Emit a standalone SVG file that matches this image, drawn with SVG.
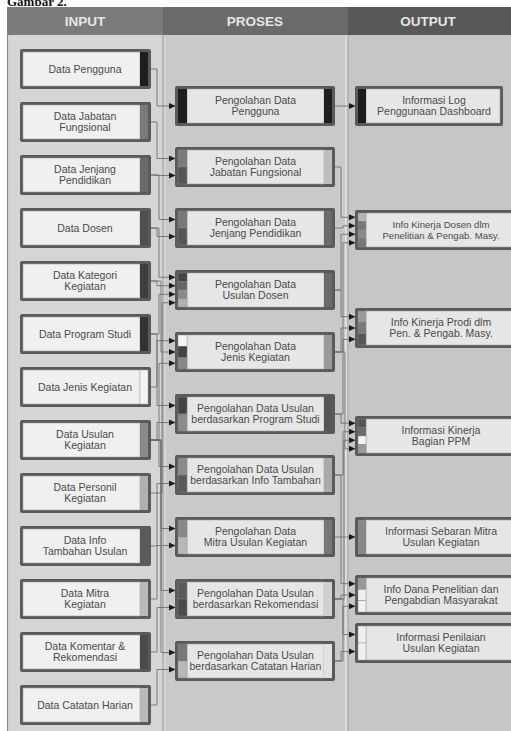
<svg xmlns="http://www.w3.org/2000/svg" width="511" height="731" viewBox="0 0 511 731">
<style>
.ob{fill:#5a5a5a}
.ib{fill:#f0f0f0;stroke:#a0a0a0;stroke-width:0.6}
.pb{fill:#e6e6e6;stroke:#a0a0a0;stroke-width:0.6}
.sg{stroke:#8a8a8a;stroke-width:0.4}
.t{font-family:"Liberation Sans",Arial,sans-serif;font-size:10.5px;fill:#4a4a4a;text-anchor:middle}
.t2{font-family:"Liberation Sans",Arial,sans-serif;font-size:9.6px;fill:#4a4a4a;text-anchor:middle}
.h{font-family:"Liberation Sans",Arial,sans-serif;font-weight:bold;font-size:13.5px;fill:#e6e6e6;text-anchor:middle}
.c{fill:none;stroke:#6a6a6a;stroke-width:0.85;marker-end:url(#ah)}
</style>
<defs>
<marker id="ah" markerWidth="7" markerHeight="7" refX="6.5" refY="3.5" orient="auto" markerUnits="userSpaceOnUse"><path d="M0,0.5 L6.5,3.5 L0,6.5 z" fill="#1a1a1a"/></marker>
</defs>
<rect x="0" y="0" width="511" height="731" fill="#ffffff"/>
<text x="7" y="6" font-family="'Liberation Serif',serif" font-weight="bold" font-size="13" fill="#111">Gambar 2.</text>
<g id="lanes">
<rect x="8" y="35" width="155" height="696" fill="#d5d5d5"/>
<rect x="163" y="35" width="184" height="696" fill="#c9c9c9"/>
<rect x="347" y="35" width="164" height="696" fill="#c6c6c6"/>
<line x1="7.5" y1="35" x2="7.5" y2="731" stroke="#8c8c8c" stroke-width="1.2"/>
<line x1="163" y1="35" x2="163" y2="731" stroke="#9c9c9c" stroke-width="1"/>
<line x1="165" y1="35" x2="165" y2="731" stroke="#dedede" stroke-width="1"/>
<line x1="346" y1="35" x2="346" y2="731" stroke="#dcdcdc" stroke-width="2"/>
<line x1="348" y1="35" x2="348" y2="731" stroke="#a8a8a8" stroke-width="1"/>
<rect x="7" y="7" width="156" height="28" fill="#7b7b7b"/>
<rect x="163" y="7" width="185" height="28" fill="#6a6a6a"/>
<rect x="348" y="7" width="163" height="28" fill="#585858"/>
<text class="h" x="85" y="26">INPUT</text>
<text class="h" x="255" y="26">PROSES</text>
<text class="h" x="428" y="26">OUTPUT</text>
</g>
<g id="connectors">
<polyline class="c" points="151,69 157,69 157,106 175.5,106"/>
<polyline class="c" points="151,122 157,122 157,158.5 175.5,158.5"/>
<polyline class="c" points="151,175 157,175 157,175.5 175.5,175.5"/>
<polyline class="c" points="151,175 159,175 159,219.5 175.5,219.5"/>
<polyline class="c" points="151,228 157,228 157,236.5 175.5,236.5"/>
<polyline class="c" points="151,228 159,228 159,277.25 175.5,277.25"/>
<polyline class="c" points="151,281 157,281 157,285.75 175.5,285.75"/>
<polyline class="c" points="151,334 159,334 159,294.25 175.5,294.25"/>
<polyline class="c" points="151,493 162,493 162,302.75 175.5,302.75"/>
<polyline class="c" points="151,387 157,387 157,340.67 175.5,340.67"/>
<polyline class="c" points="151,281 161,281 161,352 175.5,352"/>
<polyline class="c" points="151,440 159,440 159,363.33 175.5,363.33"/>
<polyline class="c" points="151,334 157,334 157,405.5 175.5,405.5"/>
<polyline class="c" points="151,440 157,440 157,422.5 175.5,422.5"/>
<polyline class="c" points="151,440 159,440 159,466.5 175.5,466.5"/>
<polyline class="c" points="151,546 157,546 157,483.5 175.5,483.5"/>
<polyline class="c" points="151,440 161,440 161,528.5 175.5,528.5"/>
<polyline class="c" points="151,599 157,599 157,545.5 175.5,545.5"/>
<polyline class="c" points="151,440 161,440 161,590.5 175.5,590.5"/>
<polyline class="c" points="151,652 157,652 157,607.5 175.5,607.5"/>
<polyline class="c" points="151,440 161,440 161,652.5 175.5,652.5"/>
<polyline class="c" points="151,705 157,705 157,669.5 175.5,669.5"/>
<polyline class="c" points="335,106 355.5,106"/>
<polyline class="c" points="335,167 341,167 341,217.25 355.5,217.25"/>
<polyline class="c" points="335,228 343,228 343,225.75 355.5,225.75"/>
<polyline class="c" points="335,290 341,290 341,234.25 355.5,234.25"/>
<polyline class="c" points="335,352 343,352 343,242.75 355.5,242.75"/>
<polyline class="c" points="335,290 341,290 341,316.67 355.5,316.67"/>
<polyline class="c" points="335,352 341,352 341,328 355.5,328"/>
<polyline class="c" points="335,414 343,414 343,339.33 355.5,339.33"/>
<polyline class="c" points="335,414 341,414 341,423.25 355.5,423.25"/>
<polyline class="c" points="335,475 343,475 343,431.75 355.5,431.75"/>
<polyline class="c" points="335,599 344,599 344,440.25 355.5,440.25"/>
<polyline class="c" points="335,352 345,352 345,448.75 355.5,448.75"/>
<polyline class="c" points="335,537 355.5,537"/>
<polyline class="c" points="335,475 341,475 341,583.67 355.5,583.67"/>
<polyline class="c" points="335,599 341,599 341,595 355.5,595"/>
<polyline class="c" points="335,661 343,661 343,606.33 355.5,606.33"/>
<polyline class="c" points="335,599 343,599 343,634.5 355.5,634.5"/>
<polyline class="c" points="335,661 341,661 341,651.5 355.5,651.5"/>
</g>
<g id="in-pengguna"><rect class="ob" x="20" y="49" width="131" height="40" rx="2"/><rect class="ib" x="23" y="52" width="117" height="34"/><rect x="140" y="52" width="8" height="34" fill="#1e1e1e"/><text class="t" x="85" y="72.5">Data Pengguna</text></g>
<g id="in-jabatan"><rect class="ob" x="20" y="102" width="131" height="40" rx="2"/><rect class="ib" x="23" y="105" width="117" height="34"/><rect x="140" y="105" width="8" height="34" fill="#7a7a7a"/><text class="t" x="85" y="119.8">Data Jabatan<tspan x="85" dy="11.5">Fungsional</tspan></text></g>
<g id="in-jenjang"><rect class="ob" x="20" y="155" width="131" height="40" rx="2"/><rect class="ib" x="23" y="158" width="117" height="34"/><rect x="140" y="158" width="8" height="34" fill="#6a6a6a"/><text class="t" x="85" y="172.8">Data Jenjang<tspan x="85" dy="11.5">Pendidikan</tspan></text></g>
<g id="in-dosen"><rect class="ob" x="20" y="208" width="131" height="40" rx="2"/><rect class="ib" x="23" y="211" width="117" height="34"/><rect x="140" y="211" width="8" height="34" fill="#4f4f4f"/><text class="t" x="85" y="231.5">Data Dosen</text></g>
<g id="in-kategori"><rect class="ob" x="20" y="261" width="131" height="40" rx="2"/><rect class="ib" x="23" y="264" width="117" height="34"/><rect x="140" y="264" width="8" height="34" fill="#3e3e3e"/><text class="t" x="85" y="278.8">Data Kategori<tspan x="85" dy="11.5">Kegiatan</tspan></text></g>
<g id="in-prodi"><rect class="ob" x="20" y="314" width="131" height="40" rx="2"/><rect class="ib" x="23" y="317" width="117" height="34"/><rect x="140" y="317" width="8" height="34" fill="#333333"/><text class="t" x="85" y="337.5">Data Program Studi</text></g>
<g id="in-jenis"><rect class="ob" x="20" y="367" width="131" height="40" rx="2"/><rect class="ib" x="23" y="370" width="117" height="34"/><rect x="140" y="370" width="8" height="34" fill="#f4f4f4" stroke="#aaa" stroke-width="0.5"/><text class="t" x="85" y="390.5">Data Jenis Kegiatan</text></g>
<g id="in-usulan"><rect class="ob" x="20" y="420" width="131" height="40" rx="2"/><rect class="ib" x="23" y="423" width="117" height="34"/><rect x="140" y="423" width="8" height="34" fill="#8a8a8a"/><text class="t" x="85" y="437.8">Data Usulan<tspan x="85" dy="11.5">Kegiatan</tspan></text></g>
<g id="in-personil"><rect class="ob" x="20" y="473" width="131" height="40" rx="2"/><rect class="ib" x="23" y="476" width="117" height="34"/><rect x="140" y="476" width="8" height="34" fill="#b0b0b0"/><text class="t" x="85" y="490.8">Data Personil<tspan x="85" dy="11.5">Kegiatan</tspan></text></g>
<g id="in-infotambahan"><rect class="ob" x="20" y="526" width="131" height="40" rx="2"/><rect class="ib" x="23" y="529" width="117" height="34"/><rect x="140" y="529" width="8" height="34" fill="#5a5a5a"/><text class="t" x="85" y="543.8">Data Info<tspan x="85" dy="11.5">Tambahan Usulan</tspan></text></g>
<g id="in-mitra"><rect class="ob" x="20" y="579" width="131" height="40" rx="2"/><rect class="ib" x="23" y="582" width="117" height="34"/><rect x="140" y="582" width="8" height="34" fill="#b8b8b8"/><text class="t" x="85" y="596.8">Data Mitra<tspan x="85" dy="11.5">Kegiatan</tspan></text></g>
<g id="in-komentar"><rect class="ob" x="20" y="632" width="131" height="40" rx="2"/><rect class="ib" x="23" y="635" width="117" height="34"/><rect x="140" y="635" width="8" height="34" fill="#4a4a4a"/><text class="t" x="85" y="649.8">Data Komentar &amp;<tspan x="85" dy="11.5">Rekomendasi</tspan></text></g>
<g id="in-catatan"><rect class="ob" x="20" y="685" width="131" height="40" rx="2"/><rect class="ib" x="23" y="688" width="117" height="34"/><rect x="140" y="688" width="8" height="34" fill="#b8b8b8"/><text class="t" x="85" y="708.5">Data Catatan Harian</text></g>

<g id="p-pengguna"><rect class="ob" x="175" y="86" width="160" height="40" rx="2"/><rect class="pb" x="187" y="89" width="137" height="34"/><text class="t" x="255.5" y="103.8">Pengolahan Data<tspan x="255.5" dy="11.5">Pengguna</tspan></text><rect x="178" y="89" width="9" height="34" fill="#1e1e1e"/><rect x="324" y="89" width="8" height="34" fill="#1e1e1e"/></g>
<g id="p-jabatan"><rect class="ob" x="175" y="147" width="160" height="40" rx="2"/><rect class="pb" x="187" y="150" width="137" height="34"/><text class="t" x="255.5" y="164.8">Pengolahan Data<tspan x="255.5" dy="11.5">Jabatan Fungsional</tspan></text><rect class="sg" x="178" y="150" width="9" height="17" fill="#7a7a7a"/><rect class="sg" x="178" y="167" width="9" height="17" fill="#555"/><rect x="324" y="150" width="8" height="34" fill="#bdbdbd"/></g>
<g id="p-jenjang"><rect class="ob" x="175" y="208" width="160" height="40" rx="2"/><rect class="pb" x="187" y="211" width="137" height="34"/><text class="t" x="255.5" y="225.8">Pengolahan Data<tspan x="255.5" dy="11.5">Jenjang Pendidikan</tspan></text><rect class="sg" x="178" y="211" width="9" height="17" fill="#777"/><rect class="sg" x="178" y="228" width="9" height="17" fill="#555"/><rect x="324" y="211" width="8" height="34" fill="#6a6a6a"/></g>
<g id="p-usulandosen"><rect class="ob" x="175" y="270" width="160" height="40" rx="2"/><rect class="pb" x="187" y="273" width="137" height="34"/><text class="t" x="255.5" y="287.8">Pengolahan Data<tspan x="255.5" dy="11.5">Usulan Dosen</tspan></text><rect class="sg" x="178" y="273" width="9" height="8.5" fill="#444"/><rect class="sg" x="178" y="281.5" width="9" height="8.5" fill="#666"/><rect class="sg" x="178" y="290" width="9" height="8.5" fill="#8a8a8a"/><rect class="sg" x="178" y="298.5" width="9" height="8.5" fill="#b0b0b0"/><rect x="324" y="273" width="8" height="34" fill="#6a6a6a"/></g>
<g id="p-jenis"><rect class="ob" x="175" y="332" width="160" height="40" rx="2"/><rect class="pb" x="187" y="335" width="137" height="34"/><text class="t" x="255.5" y="349.8">Pengolahan Data<tspan x="255.5" dy="11.5">Jenis Kegiatan</tspan></text><rect class="sg" x="178" y="335" width="9" height="11.33" fill="#f4f4f4"/><rect class="sg" x="178" y="346.33" width="9" height="11.33" fill="#444"/><rect class="sg" x="178" y="357.67" width="9" height="11.33" fill="#888"/><rect x="324" y="335" width="8" height="34" fill="#9a9a9a"/></g>
<g id="p-prodi"><rect class="ob" x="175" y="394" width="160" height="40" rx="2"/><rect class="pb" x="187" y="397" width="137" height="34"/><text class="t" x="255.5" y="411.8">Pengolahan Data Usulan<tspan x="255.5" dy="11.5">berdasarkan Program Studi</tspan></text><rect class="sg" x="178" y="397" width="9" height="17" fill="#444"/><rect class="sg" x="178" y="414" width="9" height="17" fill="#8a8a8a"/><rect x="324" y="397" width="8" height="34" fill="#555"/></g>
<g id="p-infotambahan"><rect class="ob" x="175" y="455" width="160" height="40" rx="2"/><rect class="pb" x="187" y="458" width="137" height="34"/><text class="t" x="255.5" y="472.8">Pengolahan Data Usulan<tspan x="255.5" dy="11.5">berdasarkan Info Tambahan</tspan></text><rect class="sg" x="178" y="458" width="9" height="17" fill="#8a8a8a"/><rect class="sg" x="178" y="475" width="9" height="17" fill="#5a5a5a"/><rect x="324" y="458" width="8" height="34" fill="#aaa"/></g>
<g id="p-mitra"><rect class="ob" x="175" y="517" width="160" height="40" rx="2"/><rect class="pb" x="187" y="520" width="137" height="34"/><text class="t" x="255.5" y="534.8">Pengolahan Data<tspan x="255.5" dy="11.5">Mitra Usulan Kegiatan</tspan></text><rect class="sg" x="178" y="520" width="9" height="17" fill="#888"/><rect class="sg" x="178" y="537" width="9" height="17" fill="#b8b8b8"/><rect x="324" y="520" width="8" height="34" fill="#777"/></g>
<g id="p-rekomendasi"><rect class="ob" x="175" y="579" width="160" height="40" rx="2"/><rect class="pb" x="187" y="582" width="137" height="34"/><text class="t" x="255.5" y="596.8">Pengolahan Data Usulan<tspan x="255.5" dy="11.5">berdasarkan Rekomendasi</tspan></text><rect class="sg" x="178" y="582" width="9" height="17" fill="#5a5a5a"/><rect class="sg" x="178" y="599" width="9" height="17" fill="#4a4a4a"/><rect x="324" y="582" width="8" height="34" fill="#d0d0d0"/></g>
<g id="p-catatan"><rect class="ob" x="175" y="641" width="160" height="40" rx="2"/><rect class="pb" x="187" y="644" width="137" height="34"/><text class="t" x="255.5" y="658.8">Pengolahan Data Usulan<tspan x="255.5" dy="11.5">berdasarkan Catatan Harian</tspan></text><rect class="sg" x="178" y="644" width="9" height="17" fill="#777"/><rect class="sg" x="178" y="661" width="9" height="17" fill="#b8b8b8"/><rect x="324" y="644" width="8" height="34" fill="#e2e2e2"/></g>

<g id="o-log"><rect class="ob" x="355" y="86" width="148" height="40" rx="2"/><rect class="pb" x="366" y="89" width="134" height="34"/><text class="t" x="434" y="103.8">Informasi Log<tspan x="434" dy="11.5">Penggunaan Dashboard</tspan></text><rect x="358" y="89" width="8" height="34" fill="#1e1e1e"/></g>
<g id="o-dosen"><rect class="ob" x="355" y="210" width="160" height="40" rx="2"/><rect class="pb" x="366" y="213" width="150" height="34"/><text class="t2" x="441" y="227.6">Info Kinerja Dosen dlm<tspan x="441" dy="11.5">Penelitian &amp; Pengab. Masy.</tspan></text><rect class="sg" x="358" y="213" width="8" height="8.5" fill="#b5b5b5"/><rect class="sg" x="358" y="221.5" width="8" height="8.5" fill="#777"/><rect class="sg" x="358" y="230" width="8" height="8.5" fill="#8a8a8a"/><rect class="sg" x="358" y="238.5" width="8" height="8.5" fill="#777"/></g>
<g id="o-prodi"><rect class="ob" x="355" y="308" width="160" height="40" rx="2"/><rect class="pb" x="366" y="311" width="150" height="34"/><text class="t" x="441" y="325.8">Info Kinerja Prodi dlm<tspan x="441" dy="11.5">Pen. &amp; Pengab. Masy.</tspan></text><rect class="sg" x="358" y="311" width="8" height="11.33" fill="#9a9a9a"/><rect class="sg" x="358" y="322.33" width="8" height="11.33" fill="#7a7a7a"/><rect class="sg" x="358" y="333.67" width="8" height="11.33" fill="#555"/></g>
<g id="o-ppm"><rect class="ob" x="355" y="416" width="160" height="40" rx="2"/><rect class="pb" x="366" y="419" width="150" height="34"/><text class="t" x="441" y="433.8">Informasi Kinerja<tspan x="441" dy="11.5">Bagian PPM</tspan></text><rect class="sg" x="358" y="419" width="8" height="8.5" fill="#555"/><rect class="sg" x="358" y="427.5" width="8" height="8.5" fill="#6a6a6a"/><rect class="sg" x="358" y="436" width="8" height="8.5" fill="#f4f4f4"/><rect class="sg" x="358" y="444.5" width="8" height="8.5" fill="#9a9a9a"/></g>
<g id="o-mitra"><rect class="ob" x="355" y="517" width="160" height="40" rx="2"/><rect class="pb" x="366" y="520" width="150" height="34"/><text class="t" x="441" y="534.8">Informasi Sebaran Mitra<tspan x="441" dy="11.5">Usulan Kegiatan</tspan></text><rect x="358" y="520" width="8" height="34" fill="#888"/></g>
<g id="o-dana"><rect class="ob" x="355" y="575" width="160" height="40" rx="2"/><rect class="pb" x="366" y="578" width="150" height="34"/><text class="t" x="441" y="592.8">Info Dana Penelitian dan<tspan x="441" dy="11.5">Pengabdian Masyarakat</tspan></text><rect class="sg" x="358" y="578" width="8" height="11.33" fill="#999"/><rect class="sg" x="358" y="589.33" width="8" height="11.33" fill="#f0f0f0"/><rect class="sg" x="358" y="600.67" width="8" height="11.33" fill="#f0f0f0"/></g>
<g id="o-penilaian"><rect class="ob" x="355" y="623" width="160" height="40" rx="2"/><rect class="pb" x="366" y="626" width="150" height="34"/><text class="t" x="441" y="640.8">Informasi Penilaian<tspan x="441" dy="11.5">Usulan Kegiatan</tspan></text><rect class="sg" x="358" y="626" width="8" height="17" fill="#f0f0f0"/><rect class="sg" x="358" y="643" width="8" height="17" fill="#f0f0f0"/></g>
</svg>
